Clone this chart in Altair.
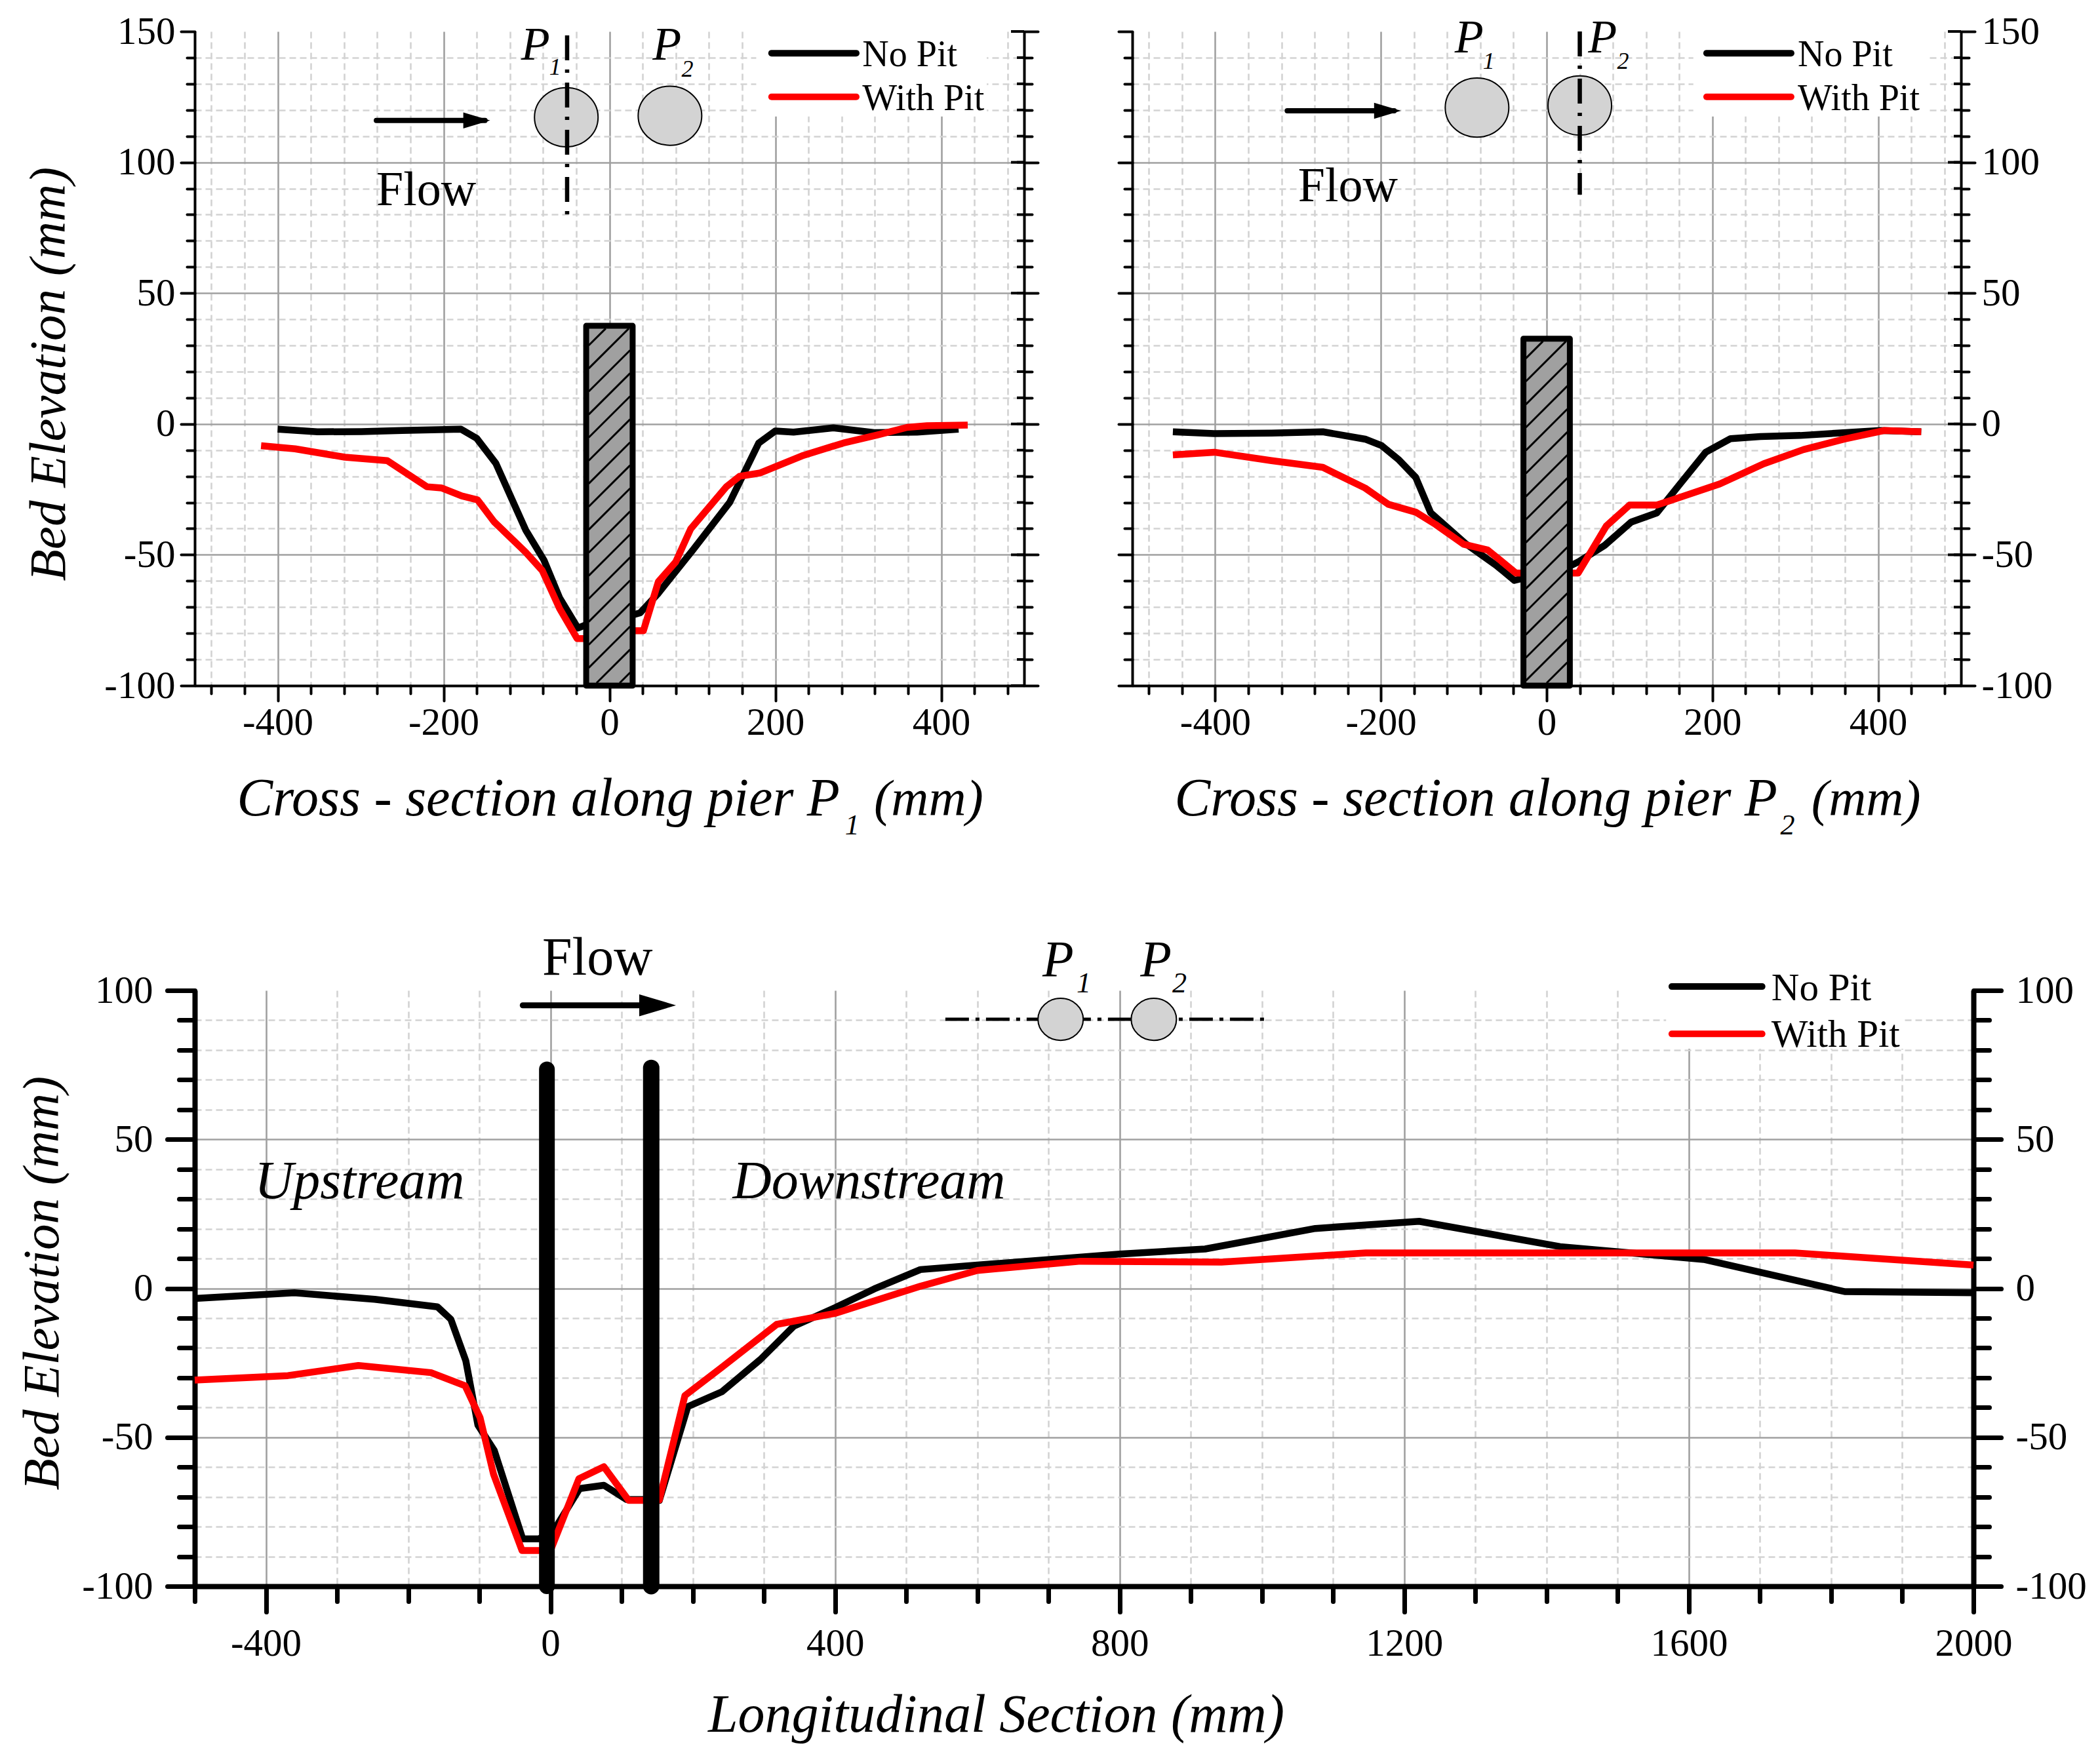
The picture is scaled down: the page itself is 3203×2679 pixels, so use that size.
import altair as alt
import pandas as pd

FONT = "Liberation Serif"
GRID_MAJOR = "#a0a0a0"
GRID_MINOR = "#d3d3d3"

# ---------------------------------------------------------------------------
# Values
# ---------------------------------------------------------------------------
p1_nopit_x = [-400, -352, -299, -250, -179, -160, -137, -101, -79, -60, -38, -30, 28, 37, 59, 101, 145, 180, 200, 222, 270, 319, 371, 421]
p1_nopit_y = [-2, -3, -2.9, -2.5, -2, -5.5, -15, -40.5, -52, -66.5, -78, -77, -73, -72.2, -64.7, -48, -30, -7.3, -2.7, -3.1, -1.5, -3.3, -3.1, -2]
p1_pit_x = [-420, -379, -319, -268, -220, -202, -178, -159, -139, -101, -81, -60, -39, -30, 32, 41, 59, 80, 98, 141, 157, 182, 234, 282, 323, 359, 383, 432]
p1_pit_y = [-8.3, -9.5, -12.7, -14, -24, -24.5, -27.5, -29, -37.4, -49, -56, -70.6, -82, -82, -79, -79, -60.3, -52.7, -40.1, -24, -20, -18.7, -12, -7.3, -4.2, -1.3, -0.7, -0.4]

p2_nopit_x = [-451, -401, -332, -270, -219, -199, -179, -158, -140, -98, -61, -39, -29, 30, 39, 70, 102, 133, 161, 192, 222, 258, 306, 351, 403, 452]
p2_nopit_y = [-3, -3.7, -3.5, -3, -5.8, -8.3, -13.5, -20.4, -33.9, -45.7, -54, -59.8, -59, -54, -52.6, -46.4, -37.5, -34, -22.9, -10.8, -5.6, -4.8, -4.4, -3.5, -2.5, -3]
p2_pit_x = [-451, -401, -332, -270, -219, -191, -158, -134, -100, -71, -37, -29, 30, 38, 72, 100, 133, 209, 262, 310, 359, 407, 452]
p2_pit_y = [-11.8, -10.8, -14, -16.6, -24.5, -30.7, -33.7, -38.4, -46, -48.2, -57, -57, -57, -57, -39, -31, -31, -22.9, -15.2, -9.8, -5.8, -2.5, -3]

long_nopit_x = [-500, -360, -247, -159, -140, -119, -102, -79, -39, -16, 6, 41, 75, 107, 130, 153, 193, 241, 295, 342, 400, 455, 520, 600, 800, 920, 1075, 1221, 1419, 1621, 1819, 2000]
long_nopit_y = [-3.4, -1.5, -3.7, -6.2, -10.4, -24.3, -45.9, -54.4, -84.1, -84.1, -80.8, -67.2, -66.1, -70.9, -70.9, -71.2, -39.7, -34.7, -23.9, -12.7, -6.5, -0.2, 6.3, 7.8, 11.5, 13.2, 20.1, 22.5, 14, 9.7, -1.1, -1.5]
long_pit_x = [-500, -369, -270, -168, -120, -99, -80, -40, -16, 0, 40, 75, 110, 130, 153, 189, 241, 318, 400, 520, 600, 745, 943, 1146, 1400, 1749, 2000]
long_pit_y = [-30.8, -29.3, -25.9, -28.3, -32.7, -43.4, -62.4, -88, -88, -88, -63.9, -59.9, -71.2, -71.2, -71, -36, -26.5, -12.1, -8.4, 0.7, 6, 9.1, 8.8, 11.9, 11.9, 11.9, 7.8]

cross_x_ticks = [-480, -440, -400, -360, -320, -280, -240, -200, -160, -120, -80, -40, 0, 40, 80, 120, 160, 200, 240, 280, 320, 360, 400, 440, 480]
cross_y_ticks = [-100, -90, -80, -70, -60, -50, -40, -30, -20, -10, 0, 10, 20, 30, 40, 50, 60, 70, 80, 90, 100, 110, 120, 130, 140, 150]
long_x_ticks = [-500, -400, -300, -200, -100, 0, 100, 200, 300, 400, 500, 600, 700, 800, 900, 1000, 1100, 1200, 1300, 1400, 1500, 1600, 1700, 1800, 1900, 2000]
long_y_ticks = [-100, -90, -80, -70, -60, -50, -40, -30, -20, -10, 0, 10, 20, 30, 40, 50, 60, 70, 80, 90, 100]

ELLIPSE = "M-1,0A1,0.93,0,1,1,1,0A1,0.93,0,1,1,-1,0Z"
ARROW_HEAD = "M-1,-0.6L1,0L-1,0.6Z"


class Panel:
    """Collects the layers of one plot; every mark goes through the same two scales."""

    def __init__(self, x_domain, y_domain, width, height):
        self.sx = alt.Scale(domain=x_domain, nice=False, zero=False)
        self.sy = alt.Scale(domain=y_domain, nice=False, zero=False)
        self.width = width
        self.height = height
        self.layers = []

    def x(self, axis=None):
        return alt.X("x:Q", scale=self.sx, axis=axis)

    def y(self, axis=None):
        return alt.Y("y:Q", scale=self.sy, axis=axis)

    def add_axes(self, x_axis, y_axis):
        df = pd.DataFrame({"x": [0], "y": [0]})
        self.layers.append(
            alt.Chart(df).mark_point(opacity=0).encode(x=self.x(x_axis), y=self.y(y_axis))
        )

    def add_box(self, x0, x1, y0, y1, **mark):
        df = pd.DataFrame({"x": [x0], "x2": [x1], "y": [y0], "y2": [y1]})
        self.layers.append(
            alt.Chart(df).mark_rect(**mark).encode(x=self.x(), x2="x2:Q", y=self.y(), y2="y2:Q")
        )

    def add_series(self, xs, ys, color, width=10.5):
        df = pd.DataFrame({"x": xs, "y": ys})
        self.layers.append(
            alt.Chart(df)
            .mark_line(color=color, strokeWidth=width, strokeJoin="round", clip=False)
            .encode(x=self.x(), y=self.y())
        )

    def add_hline(self, x0, x1, y, color="black", width=10, **mark):
        df = pd.DataFrame({"x": [x0], "x2": [x1], "y": [y]})
        self.layers.append(
            alt.Chart(df)
            .mark_rule(color=color, strokeWidth=width, **mark)
            .encode(x=self.x(), x2="x2:Q", y=self.y())
        )

    def add_vline(self, x, y0, y1, color="black", width=6.5, **mark):
        df = pd.DataFrame({"x": [x], "y": [y0], "y2": [y1]})
        self.layers.append(
            alt.Chart(df)
            .mark_rule(color=color, strokeWidth=width, **mark)
            .encode(x=self.x(), y=self.y(), y2="y2:Q")
        )

    def add_symbol(self, x, y, shape, diameter, **mark):
        df = pd.DataFrame({"x": [x], "y": [y]})
        self.layers.append(
            alt.Chart(df)
            .mark_point(shape=shape, size=diameter * diameter, filled=True, opacity=1, **mark)
            .encode(x=self.x(), y=self.y())
        )

    def add_text(self, text, x, y, size, italic=False):
        df = pd.DataFrame({"x": [x], "y": [y], "t": [text]})
        self.layers.append(
            alt.Chart(df)
            .mark_text(
                font=FONT,
                fontSize=size,
                fontStyle="italic" if italic else "normal",
                align="left",
                baseline="alphabetic",
                color="black",
            )
            .encode(x=self.x(), y=self.y(), text="t:N")
        )

    def add_right_axis(self, values, is_major, major, minor, line, tick, labels, pad, inner=True):
        axis = alt.Axis(
            orient="right",
            values=values,
            labels=labels,
            labelFlush=False,
            labelExpr="datum.value % 50 == 0 ? '' + datum.value : ''",
            labelFont=FONT,
            labelFontSize=59,
            labelColor="black",
            labelPadding=pad,
            grid=False,
            title=None,
            domainColor="black",
            domainWidth=line,
            tickColor="black",
            tickWidth=tick,
            tickCap="round",
            tickSize={"condition": {"test": is_major, "value": major}, "value": minor},
        )
        df = pd.DataFrame({"y": values})
        in_major = -20 if inner else 0
        in_minor = -11 if inner else 0
        self.layers.append(
            alt.Chart(df)
            .mark_rule(color="black", strokeWidth=tick)
            .encode(
                y=self.y(axis),
                x=alt.value(self.width + in_minor),
                x2=alt.value(self.width),
            )
        )
        if inner:
            df = pd.DataFrame({"y": [v for v in values if v % 50 == 0]})
            self.layers.append(
                alt.Chart(df)
                .mark_rule(color="black", strokeWidth=tick)
                .encode(
                    y=self.y(),
                    x=alt.value(self.width + in_major),
                    x2=alt.value(self.width),
                )
            )

    def chart(self):
        return (
            alt.layer(*self.layers)
            .resolve_axis(x="independent", y="independent")
            .properties(width=self.width, height=self.height)
        )


def main_axis(values, is_major, major, minor, line, tick, pad, size=59, title=None, labels=True, hide_grid=99999, **extra):
    return alt.Axis(
        values=values,
        labels=labels,
        labelFlush=False,
        labelExpr=f"{is_major} ? '' + datum.value : ''",
        labelFont=FONT,
        labelFontSize=size,
        labelColor="black",
        labelPadding=pad,
        grid=True,
        gridColor={"condition": {"test": is_major, "value": GRID_MAJOR}, "value": GRID_MINOR},
        gridDash={"condition": {"test": is_major, "value": []}, "value": [10, 6]},
        gridOpacity={"condition": {"test": f"datum.value == {hide_grid}", "value": 0}, "value": 1},
        gridWidth=2.6,
        domainColor="black",
        domainWidth=line,
        tickColor="black",
        tickWidth=tick,
        tickCap="round",
        tickSize={"condition": {"test": is_major, "value": major}, "value": minor},
        title=title,
        **extra,
    )


def add_pier(panel, top, first_cross):
    panel.add_box(-28, 28, -100, top, fill="#a0a0a0")
    # hatch lines rise about 45 degrees on screen across the pier
    rise = 15.8
    c = first_cross
    while c > -100 - rise:
        x0, y0, x1, y1 = -25.0, c, 25.0, c + rise
        if y0 < -99:
            x0 = -25 + 50 * (-99 - c) / rise
            y0 = -99
        if y1 > top - 1:
            x1 = -25 + 50 * (top - 1 - c) / rise
            y1 = top - 1
        seg = pd.DataFrame({"x": [x0], "x2": [x1], "y": [y0], "y2": [y1]})
        panel.layers.append(
            alt.Chart(seg)
            .mark_rule(color="black", strokeWidth=3)
            .encode(x=panel.x(), x2="x2:Q", y=panel.y(), y2="y2:Q")
        )
        c -= 8.8
    panel.add_box(-28, 28, -100, top, fill="transparent", stroke="black", strokeWidth=9, strokeJoin="round")


def add_legend(panel, x0, x1, y_black, y_red, text_x, y_t1, y_t2, size, box):
    panel.add_box(*box, fill="white")
    return lambda: (
        panel.add_hline(x0, x1, y_black, strokeCap="round"),
        panel.add_hline(x0, x1, y_red, color="#ff0000", strokeCap="round"),
        panel.add_text("No Pit", text_x, y_t1, size),
        panel.add_text("With Pit", text_x, y_t2, size),
    )


# ---------------------------------------------------------------------------
# Top left: cross section along pier P1
# ---------------------------------------------------------------------------
MAJOR_X = "datum.value % 200 == 0"
MAJOR_Y = "datum.value % 50 == 0"
DASH_DOT = [38, 14, 5, 15]

p1 = Panel([-500, 500], [-100, 150], 1265, 998)
p1.add_axes(
    main_axis(cross_x_ticks, MAJOR_X, 23, 12, 4, 4, 4),
    main_axis(
        cross_y_ticks, MAJOR_Y, 21, 12, 4, 4, 9,
        hide_grid=150,
        title="Bed Elevation (mm)",
        titleFont=FONT,
        titleFontSize=79,
        titleFontStyle="italic",
        titleFontWeight="normal",
        titleColor="black",
        titleBaseline="alphabetic",
        titleAngle=270,
        titleX=-199,
        titleY=522,
    ),
)
legend1 = add_legend(p1, 195.5, 297.6, 141.7, 125, 305, 136.7, 120, 56, (177, 455, 117.5, 150))
p1.add_series(p1_nopit_x, p1_nopit_y, "black")
p1.add_series(p1_pit_x, p1_pit_y, "#ff0000")
add_pier(p1, 37.5, 30)
p1.add_right_axis(cross_y_ticks, MAJOR_Y, 21, 12, 4, 4, False, 10)
p1.add_symbol(-52, 117.2, ELLIPSE, 97, fill="#d3d3d3", stroke="black", strokeWidth=2)
p1.add_symbol(73, 117.8, ELLIPSE, 97, fill="#d3d3d3", stroke="black", strokeWidth=2)
p1.add_vline(-51, 148.5, 80, strokeDash=DASH_DOT)
p1.add_hline(-281, -150, 116, width=8, strokeCap="round")
p1.add_symbol(-160, 116, ARROW_HEAD, 41, fill="black")
p1.add_text("P", -106.5, 139.3, 72, italic=True)
p1.add_text("1", -72.5, 133.5, 36, italic=True)
p1.add_text("P", 52, 139.3, 72, italic=True)
p1.add_text("2", 87, 132.8, 36, italic=True)
p1.add_text("Flow", -281, 83.6, 74)
legend1()
p1.add_text("Cross - section along pier P", -449, -149.6, 82, italic=True)
p1.add_text("1", 284, -156.9, 44, italic=True)
p1.add_text("(mm)", 319, -149.6, 79, italic=True)

# ---------------------------------------------------------------------------
# Top right: cross section along pier P2
# ---------------------------------------------------------------------------
p2 = Panel([-500, 500], [-100, 150], 1264, 998)
p2.add_axes(
    main_axis(cross_x_ticks, MAJOR_X, 23, 12, 4, 4, 4),
    main_axis(cross_y_ticks, MAJOR_Y, 21, 12, 4, 4, 9, labels=False, hide_grid=150),
)
legend2 = add_legend(p2, 193, 295, 141.7, 125, 303, 136.7, 120, 56, (177, 460, 117.5, 150))
p2.add_series(p2_nopit_x, p2_nopit_y, "black")
p2.add_series(p2_pit_x, p2_pit_y, "#ff0000")
add_pier(p2, 32.6, 25.1)
p2.add_right_axis(cross_y_ticks, MAJOR_Y, 21, 12, 4, 4, True, 10)
p2.add_symbol(-84, 120.9, ELLIPSE, 97, fill="#d3d3d3", stroke="black", strokeWidth=2)
p2.add_symbol(40, 121.7, ELLIPSE, 97, fill="#d3d3d3", stroke="black", strokeWidth=2)
p2.add_vline(40, 150, 87.6, strokeDash=DASH_DOT)
p2.add_hline(-313, -184, 119.7, width=8, strokeCap="round")
p2.add_symbol(-192, 119.7, ARROW_HEAD, 41, fill="black")
p2.add_text("P", -111, 142, 72, italic=True)
p2.add_text("1", -77, 135.7, 36, italic=True)
p2.add_text("P", 50, 142, 72, italic=True)
p2.add_text("2", 85, 135.7, 36, italic=True)
p2.add_text("Flow", -300, 85, 74)
legend2()
p2.add_text("Cross - section along pier P", -449, -149.6, 82, italic=True)
p2.add_text("2", 282, -156.9, 44, italic=True)
p2.add_text("(mm)", 319.5, -149.6, 79, italic=True)

# ---------------------------------------------------------------------------
# Bottom: longitudinal section
# ---------------------------------------------------------------------------
p3 = Panel([-500, 2000], [-100, 100], 2713, 909)
p3.add_axes(
    main_axis(
        long_x_ticks, "datum.value % 400 == 0", 39, 23, 8, 7, 19,
        title="Longitudinal Section (mm)",
        titleFont=FONT,
        titleFontSize=82,
        titleFontStyle="italic",
        titleFontWeight="normal",
        titleColor="black",
        titleBaseline="alphabetic",
        titleX=1222,
        titleY=221,
    ),
    main_axis(
        long_y_ticks, MAJOR_Y, 42, 24, 8, 7, 22,
        hide_grid=100,
        title="Bed Elevation (mm)",
        titleFont=FONT,
        titleFontSize=79,
        titleFontStyle="italic",
        titleFontWeight="normal",
        titleColor="black",
        titleBaseline="alphabetic",
        titleAngle=270,
        titleX=-209,
        titleY=446,
    ),
)
legend3 = add_legend(p3, 1576, 1703, 101.3, 85.4, 1716, 96.8, 81, 59, (1568, 1903, 80.4, 100))
p3.add_series(long_nopit_x, long_nopit_y, "black")
p3.add_series(long_pit_x, long_pit_y, "#ff0000")
p3.add_vline(-5, -100, 73.5, width=24, strokeCap="round")
p3.add_vline(141.6, -100, 74, width=25, strokeCap="round")
p3.add_right_axis(long_y_ticks, MAJOR_Y, 42, 24, 8, 7, True, 22, inner=False)
p3.add_hline(555, 1012, 90.3, width=5, strokeDash=[36, 10, 6, 10])
p3.add_symbol(717, 90.3, ELLIPSE, 69, fill="#d3d3d3", stroke="black", strokeWidth=2)
p3.add_symbol(848, 90.3, ELLIPSE, 69, fill="#d3d3d3", stroke="black", strokeWidth=2)
p3.add_hline(-39, 140, 95, width=9, strokeCap="round")
p3.add_symbol(150.6, 95, ARROW_HEAD, 56, fill="black")
p3.add_text("P", 691.5, 104.8, 78, italic=True)
p3.add_text("1", 739.5, 99.3, 44, italic=True)
p3.add_text("P", 829, 104.8, 78, italic=True)
p3.add_text("2", 874, 99.3, 44, italic=True)
p3.add_text("Flow", -11.7, 105.2, 82)
p3.add_text("Upstream", -416, 30.2, 82, italic=True)
p3.add_text("Downstream", 256, 30.2, 82, italic=True)
legend3()

# ---------------------------------------------------------------------------
# Page
# ---------------------------------------------------------------------------
top = alt.hconcat(p1.chart(), p2.chart(), spacing=165, bounds="flush")
chart = (
    alt.vconcat(top, p3.chart(), spacing=1463, bounds="flush")
    .properties(padding={"left": 17, "top": 11, "right": 5, "bottom": 5}, background="white")
    .configure_view(stroke=None)
)

chart.save("out.html", embed_options={"renderer": "svg", "actions": False})
